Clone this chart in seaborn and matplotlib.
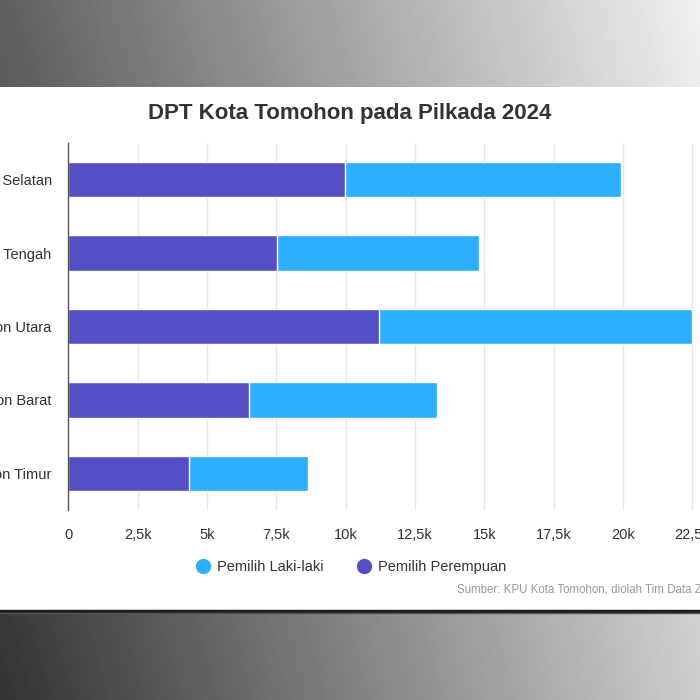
import numpy as np
import pandas as pd
import seaborn as sns
import matplotlib.pyplot as plt
from matplotlib.patches import Rectangle
from matplotlib.lines import Line2D
from matplotlib.ticker import FuncFormatter, MultipleLocator

# data
kecamatan = ["Tomohon Selatan", "Tomohon Tengah", "Tomohon Utara", "Tomohon Barat", "Tomohon Timur"]
perempuan = [9970, 7530, 11200, 6520, 4370]
laki_laki = [9960, 7280, 11300, 6780, 4280]
series_labels = ["Pemilih Laki-laki", "Pemilih Perempuan"]

BLUE = "#2caffe"
PURPLE = "#544fc5"

df = pd.DataFrame({"kecamatan": kecamatan, "perempuan": perempuan, "laki": laki_laki})
df["total"] = df["perempuan"] + df["laki"]

sns.set_theme(style="white")
plt.rcParams["font.family"] = ["Liberation Sans", "DejaVu Sans"]

fig = plt.figure(figsize=(7, 7), dpi=100)

# background: gradient screenshot frame with white chart panel
bg = fig.add_axes([0, 0, 1, 1], zorder=-1)
xs = np.linspace(0, 1, 200)
ys = np.linspace(0, 1, 200)
X, Y = np.meshgrid(xs, ys)
grad = (96 + (240 - 96) * X) * (1 - Y) + (51 + (205 - 51) * X) * Y
bg.imshow(grad, cmap="gray", vmin=0, vmax=255, extent=[0, 700, 700, 0], aspect="auto")
bg.add_patch(Rectangle((0, 87), 700, 523, facecolor="white", edgecolor="none"))
bg.plot([0, 700], [611, 611], color="#1e1e1e", lw=2.5)
bg.plot([0, 700], [613, 613], color="#555555", lw=1)
bg.set_xlim(0, 700)
bg.set_ylim(700, 0)
bg.axis("off")

# main chart, extends past the right edge like the cropped screenshot
ax = fig.add_axes([68.3 / 700, 190 / 700, 693.3 / 700, 367 / 700])
ax.set_facecolor("none")
sns.barplot(data=df, x="total", y="kecamatan", orient="h", color=BLUE,
            width=0.48, edgecolor="white", linewidth=1, saturation=1, ax=ax, zorder=3)
sns.barplot(data=df, x="perempuan", y="kecamatan", orient="h", color=PURPLE,
            width=0.48, edgecolor="white", linewidth=1, saturation=1, ax=ax, zorder=4)

ax.set_xlim(0, 25000)
ax.set_ylim(4.5, -0.5)
ax.xaxis.set_major_locator(MultipleLocator(2500))
ax.xaxis.set_major_formatter(FuncFormatter(
    lambda v, p: "0" if v == 0 else (f"{v/1000:g}k").replace(".", ",")))
ax.grid(axis="x", color="#e6e6e6", lw=1, zorder=0)
ax.set_axisbelow(True)
for s in ["top", "right", "bottom"]:
    ax.spines[s].set_visible(False)
ax.spines["left"].set_color("#555555")
ax.spines["left"].set_linewidth(1)
ax.spines["left"].set_zorder(5)
ax.tick_params(axis="x", length=0, pad=13, labelsize=10.5, labelcolor="#333333")
ax.tick_params(axis="y", length=0, pad=12, labelsize=10.5, labelcolor="#333333")
ax.set_xlabel("")
ax.set_ylabel("")

fig.text(350 / 700, 1 - 114 / 700, "DPT Kota Tomohon pada Pilkada 2024",
         ha="center", va="center", fontsize=16, fontweight="bold", color="#333333")

handles = [Line2D([], [], marker="o", ls="", markersize=10, color=BLUE),
           Line2D([], [], marker="o", ls="", markersize=10, color=PURPLE)]
fig.legend(handles, series_labels, loc="center", bbox_to_anchor=(349 / 700, 1 - 567 / 700),
           ncol=2, frameon=False, fontsize=10.5, labelcolor="#333333",
           handletextpad=0.2, columnspacing=2.0, handlelength=1.5)

fig.text(457 / 700, 1 - 589 / 700, "Sumber: KPU Kota Tomohon, diolah Tim Data Zonautara.com",
         ha="left", va="center", fontsize=8.3, color="#999999")

fig.savefig("out.png", dpi=100)
